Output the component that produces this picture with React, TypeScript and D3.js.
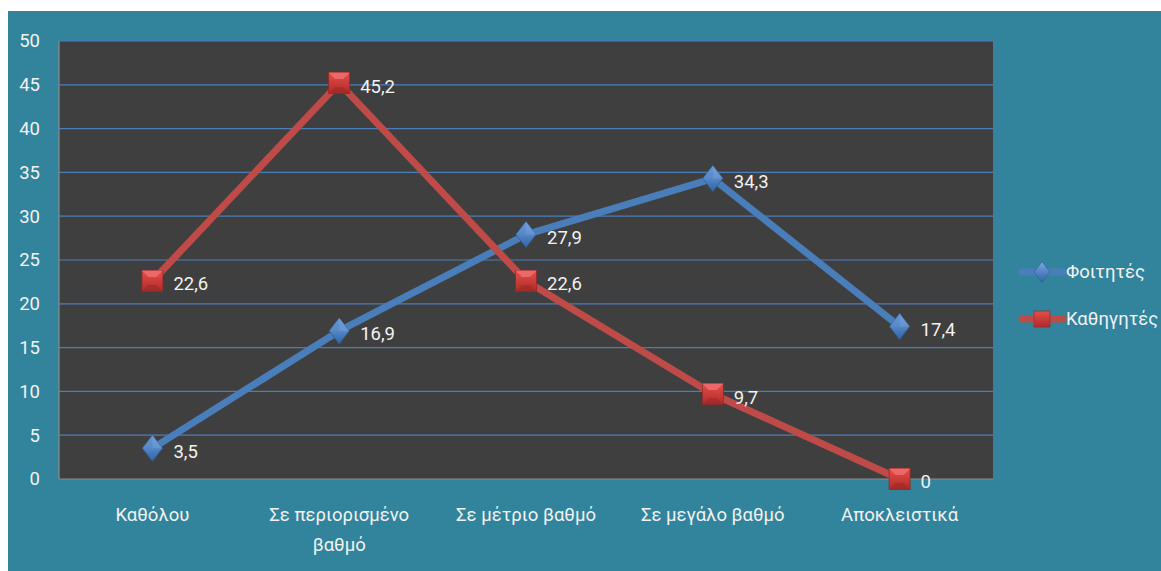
import React from "react";
import * as d3 from "d3";

const categories = ["Καθόλου", "Σε περιορισμένο|βαθμό", "Σε μέτριο βαθμό", "Σε μεγάλο βαθμό", "Αποκλειστικά"];
const students = [3.5, 16.9, 27.9, 34.3, 17.4];
const teachers = [22.6, 45.2, 22.6, 9.7, 0];
const yTicks = [0, 5, 10, 15, 20, 25, 30, 35, 40, 45, 50];
const seriesNames = ["Φοιτητές", "Καθηγητές"];

const W = 1161, H = 571;
const plot = { left: 59, top: 41, right: 993, bottom: 479 };
const FONT = "Roboto, 'Noto Sans', sans-serif";
const TEXT = "#F2F2F2";
const FS = 18.5;

export default function App() {
  const x = d3.scaleBand<string>().domain(categories).range([plot.left, plot.right]);
  const y = d3.scaleLinear().domain([0, 50]).range([plot.bottom, plot.top]);
  const cx = (c: string) => (x(c) as number) + x.bandwidth() / 2;
  const line = d3.line<number>().x((_, i) => cx(categories[i])).y((d) => y(d));
  const fmt = (v: number) => String(v).replace(".", ",");

  const diamond = (px: number, py: number, key: string) => (
    <g key={key} transform={`translate(${px},${py})`}>
      <path d="M0,-13 L10,0 L0,13 L-10,0 Z" fill="url(#gBlue)" stroke="#2F5F95" strokeWidth={0.8} />
      <path d="M0,-13 L10,0 L0,0 Z" fill="#6C9AD6" opacity={0.7} />
      <path d="M0,-13 L-10,0 L0,0 Z" fill="#5A8ACB" opacity={0.6} />
    </g>
  );
  const square = (px: number, py: number, key: string) => (
    <g key={key} transform={`translate(${px},${py})`}>
      <rect x={-10.5} y={-10.5} width={21} height={21} fill="url(#gRed)" stroke="#8E2B29" strokeWidth={0.8} />
      <path d="M-10.5,-10.5 L10.5,-10.5 L4,-4 L-4,-4 Z" fill="#F07070" opacity={0.8} />
      <path d="M-10.5,10.5 L10.5,10.5 L4,4 L-4,4 Z" fill="#9A2A28" opacity={0.6} />
    </g>
  );

  return (
    <svg width={W} height={H} style={{ position: "absolute", left: 0, top: 0 }}>
      <defs>
        <linearGradient id="gBlue" x1="0" y1="0" x2="0" y2="1">
          <stop offset="0" stopColor="#7AA7E0" />
          <stop offset="1" stopColor="#2F64A8" />
        </linearGradient>
        <linearGradient id="gRed" x1="0" y1="0" x2="0" y2="1">
          <stop offset="0" stopColor="#E24F4B" />
          <stop offset="1" stopColor="#B22A27" />
        </linearGradient>
      </defs>
      <rect x={8} y={11} width={W - 8} height={H - 11} fill="#31849B" />
      <rect x={plot.left} y={plot.top} width={plot.right - plot.left} height={plot.bottom - plot.top} fill="#3F3F3F" />
      {yTicks.map((t) => (
        <g key={t}>
          {t > 0 && <line x1={plot.left} x2={plot.right} y1={y(t)} y2={y(t)} stroke="#4A7EBB" strokeWidth={1.2} />}
          <text x={40} y={y(t)} dy="0.35em" textAnchor="end" fill={TEXT} fontFamily={FONT} fontSize={FS}>{t}</text>
        </g>
      ))}
      <line x1={plot.left} x2={plot.left} y1={plot.top} y2={plot.bottom} stroke="#8C8C8C" strokeWidth={1.2} />
      <line x1={plot.left} x2={plot.right} y1={plot.bottom} y2={plot.bottom} stroke="#8C8C8C" strokeWidth={1.2} />
      {categories.map((c) => {
        const parts = c.split("|");
        return (
          <text key={c} x={cx(c)} y={521} textAnchor="middle" fill={TEXT} fontFamily={FONT} fontSize={FS}>
            {parts.map((p, i) => (
              <tspan key={i} x={cx(c)} dy={i === 0 ? 0 : 30}>{p}</tspan>
            ))}
          </text>
        );
      })}
      <path d={line(students) || ""} fill="none" stroke="#4A7EBB" strokeWidth={7} strokeLinejoin="round" />
      <path d={line(teachers) || ""} fill="none" stroke="#BE4B48" strokeWidth={7} strokeLinejoin="round" />
      {students.map((v, i) => diamond(cx(categories[i]), y(v), "s" + i))}
      {teachers.map((v, i) => square(cx(categories[i]), y(v), "t" + i))}
      {students.map((v, i) => (
        <text key={"ls" + i} x={cx(categories[i]) + 21} y={y(v) + 3} dy="0.35em" fill={TEXT} fontFamily={FONT} fontSize={FS}>{fmt(v)}</text>
      ))}
      {teachers.map((v, i) => (
        <text key={"lt" + i} x={cx(categories[i]) + 21} y={y(v) + 3} dy="0.35em" fill={TEXT} fontFamily={FONT} fontSize={FS}>{fmt(v)}</text>
      ))}
      {seriesNames.map((n, i) => {
        const ly = 272 + i * 47;
        return (
          <g key={n}>
            <line x1={1022} x2={1063} y1={ly} y2={ly} stroke={i === 0 ? "#4A7EBB" : "#BE4B48"} strokeWidth={7} strokeLinecap="round" />
            {i === 0 ? (
              <g transform={`translate(1042,${ly}) scale(0.8)`}>
                <path d="M0,-13 L10,0 L0,13 L-10,0 Z" fill="url(#gBlue)" stroke="#2F5F95" strokeWidth={0.8} />
              </g>
            ) : (
              <g transform={`translate(1042,${ly}) scale(0.8)`}>
                <rect x={-10} y={-10} width={20} height={20} fill="url(#gRed)" stroke="#8E2B29" strokeWidth={0.8} />
              </g>
            )}
            <text x={1066} y={ly} dy="0.35em" fill={TEXT} fontFamily={FONT} fontSize={FS}>{n}</text>
          </g>
        );
      })}
    </svg>
  );
}
